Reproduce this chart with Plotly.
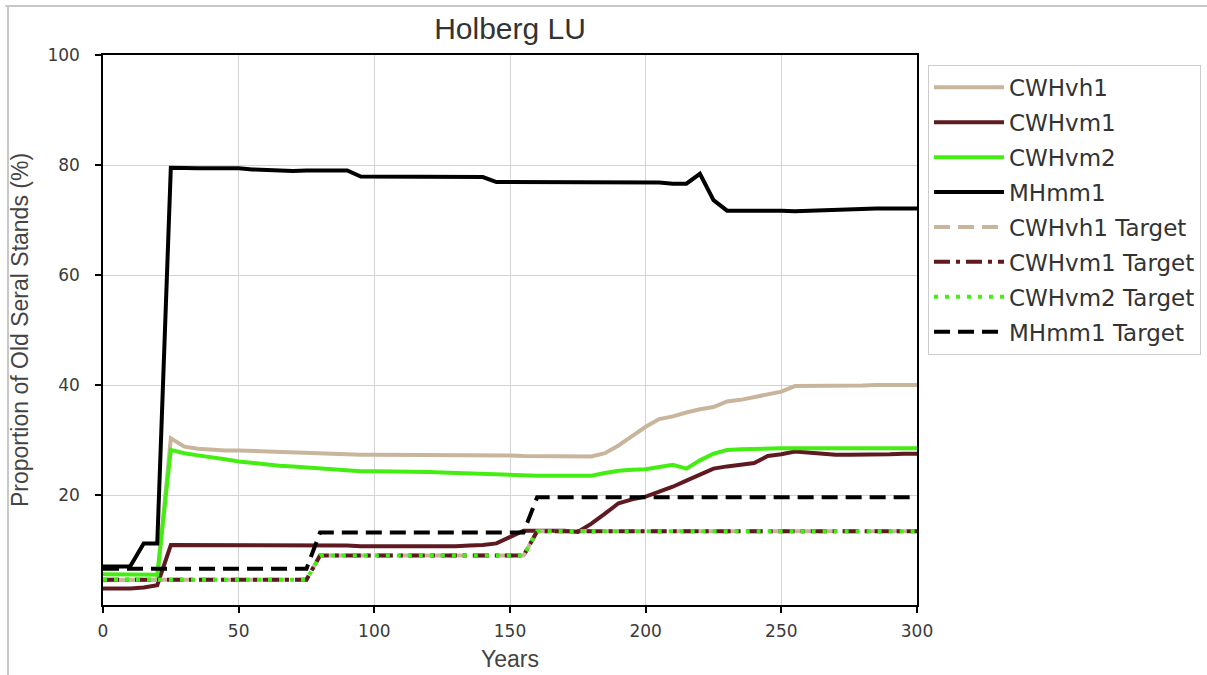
import plotly.graph_objects as go

# Simulation years (5-year reporting steps)
years = list(range(0, 301, 5))

# Proportion of old seral stands (%) by BEC variant
cwhvh1 = [4.5, 4.5, 4.5, 4.5, 4.6, 30.3, 28.8, 28.4, 28.2, 28.1, 28.1, 28.0, 27.9, 27.8, 27.8, 27.6,
          27.5, 27.4, 27.4, 27.3, 27.3, 27.3, 27.3, 27.3, 27.3, 27.2, 27.2, 27.2, 27.2, 27.2, 27.2, 27.1,
          27.1, 27.1, 27.0, 27.0, 27.0, 27.6, 29.0, 30.7, 32.4, 33.8, 34.3, 35.0, 35.6, 36.0, 37.0, 37.3,
          37.8, 38.4, 38.8, 39.8, 39.8, 39.8, 39.8, 39.8, 39.9, 40.0, 40.0, 40.0, 40.0]
cwhvm1 = [3.0, 3.0, 3.0, 3.2, 3.6, 10.9, 10.9, 10.9, 10.9, 10.9, 10.9, 10.9, 10.9, 10.9, 10.9, 10.8,
          10.8, 10.8, 10.8, 10.7, 10.7, 10.7, 10.7, 10.6, 10.6, 10.6, 10.7, 10.8, 10.9, 11.2, 12.4, 13.5,
          13.5, 13.5, 13.5, 13.3, 14.8, 16.6, 18.5, 19.2, 19.7, 20.6, 21.5, 22.6, 23.8, 24.8, 25.2, 25.5,
          25.8, 27.1, 27.4, 27.9, 27.7, 27.5, 27.3, 27.3, 27.3, 27.4, 27.4, 27.5, 27.5]
cwhvm2 = [5.6, 5.6, 5.6, 5.6, 5.5, 28.2, 27.6, 27.2, 26.9, 26.5, 26.1, 25.8, 25.5, 25.3, 25.2, 25.0,
          24.9, 24.7, 24.5, 24.3, 24.3, 24.3, 24.2, 24.2, 24.2, 24.1, 24.0, 23.9, 23.8, 23.7, 23.6, 23.5,
          23.5, 23.5, 23.5, 23.5, 23.5, 24.0, 24.4, 24.6, 24.7, 25.1, 25.5, 24.8, 26.3, 27.5, 28.2, 28.3,
          28.4, 28.4, 28.5, 28.5, 28.5, 28.5, 28.5, 28.5, 28.5, 28.5, 28.5, 28.5, 28.5]
mhmm1 = [7.0, 7.0, 7.0, 11.2, 11.2, 79.5, 79.4, 79.4, 79.4, 79.4, 79.4, 79.2, 79.1, 79.0, 78.9, 79.0,
         79.0, 79.0, 79.0, 77.9, 77.9, 77.9, 77.9, 77.9, 77.9, 77.8, 77.8, 77.8, 77.8, 76.9, 76.9, 76.9,
         76.9, 76.9, 76.9, 76.9, 76.9, 76.9, 76.9, 76.9, 76.9, 76.8, 76.6, 76.6, 78.4, 73.6, 71.7, 71.7,
         71.7, 71.8, 71.7, 71.6, 71.7, 71.8, 71.9, 72.0, 72.1, 72.1, 72.1, 72.1, 72.1]

# Retention targets, phased in over the planning horizon
cwh_target = [4.6] * 16 + [9.0] * 16 + [13.4] * 29
mh_target = [6.6] * 16 + [13.2] * 16 + [19.6] * 29

TAN = "#c8b59c"
MAROON = "#5e1a20"
GREEN = "#45ee12"
BLACK = "#000000"

series = [
    ("CWHvh1", cwhvh1, TAN, "solid"),
    ("CWHvm1", cwhvm1, MAROON, "solid"),
    ("CWHvm2", cwhvm2, GREEN, "solid"),
    ("MHmm1", mhmm1, BLACK, "solid"),
    ("CWHvh1 Target", cwh_target, TAN, "16px,8px"),
    ("CWHvm1 Target", cwh_target, MAROON, "16px,6px,4px,6px"),
    ("CWHvm2 Target", cwh_target, GREEN, "4px,7px"),
    ("MHmm1 Target", mh_target, BLACK, "16px,8px"),
]

fig = go.Figure()
for name, vals, color, dash in series:
    fig.add_trace(go.Scatter(
        x=years, y=vals, mode="lines", name=name, legendgroup=name,
        line=dict(color=color, width=4, dash=dash),
    ))

axis_common = dict(
    showline=True, linecolor="black", linewidth=1.5, mirror=True,
    ticks="outside", ticklen=6, tickcolor="black", tickwidth=1.5,
    showgrid=True, gridcolor="#d3d3d3", gridwidth=1.2, zeroline=False,
    tickfont=dict(family="DejaVu Sans", size=17, color="#3a3a3a"),
)
title_font = dict(family="Liberation Sans", size=23, color="#444444")

fig.update_xaxes(
    range=[0, 300], tickvals=[0, 50, 100, 150, 200, 250, 300], ticklabelstandoff=4,
    title=dict(text="Years", font=title_font, standoff=11),
    **axis_common,
)
fig.update_yaxes(
    range=[0, 100], tickvals=[20, 40, 60, 80, 100], ticklabelstandoff=12,
    title=dict(text="Proportion of Old Seral Stands (%)", font=title_font, standoff=12),
    **axis_common,
)

fig.update_layout(
    width=1207, height=675,
    margin=dict(l=103, r=290, t=55, b=70, autoexpand=False),
    paper_bgcolor="white", plot_bgcolor="white",
    title=dict(text="Holberg LU", x=(103 + 917) / 2 / 1207, xanchor="center",
               y=1 - 28 / 675, yanchor="middle",
               font=dict(family="Liberation Sans", size=30, color="#333333")),
    legend=dict(
        x=1.0135, y=0.982, xanchor="left", yanchor="top",
        bordercolor="#cccccc", borderwidth=1, bgcolor="white",
        font=dict(family="DejaVu Sans", size=23, color="#333333"),
        tracegroupgap=2, itemwidth=70,
    ),
    shapes=[
        dict(type="line", xref="paper", yref="paper", x0=-0.12, x1=1.4, y0=1 + 49 / 550, y1=1 + 49 / 550,
             line=dict(color="#c8c8c8", width=2)),
        dict(type="line", xref="paper", yref="paper", x0=-95 / 814, x1=-95 / 814, y0=-70 / 550, y1=1 + 49 / 550,
             line=dict(color="#c8c8c8", width=2)),
    ],
)

fig.write_html("out.html")
